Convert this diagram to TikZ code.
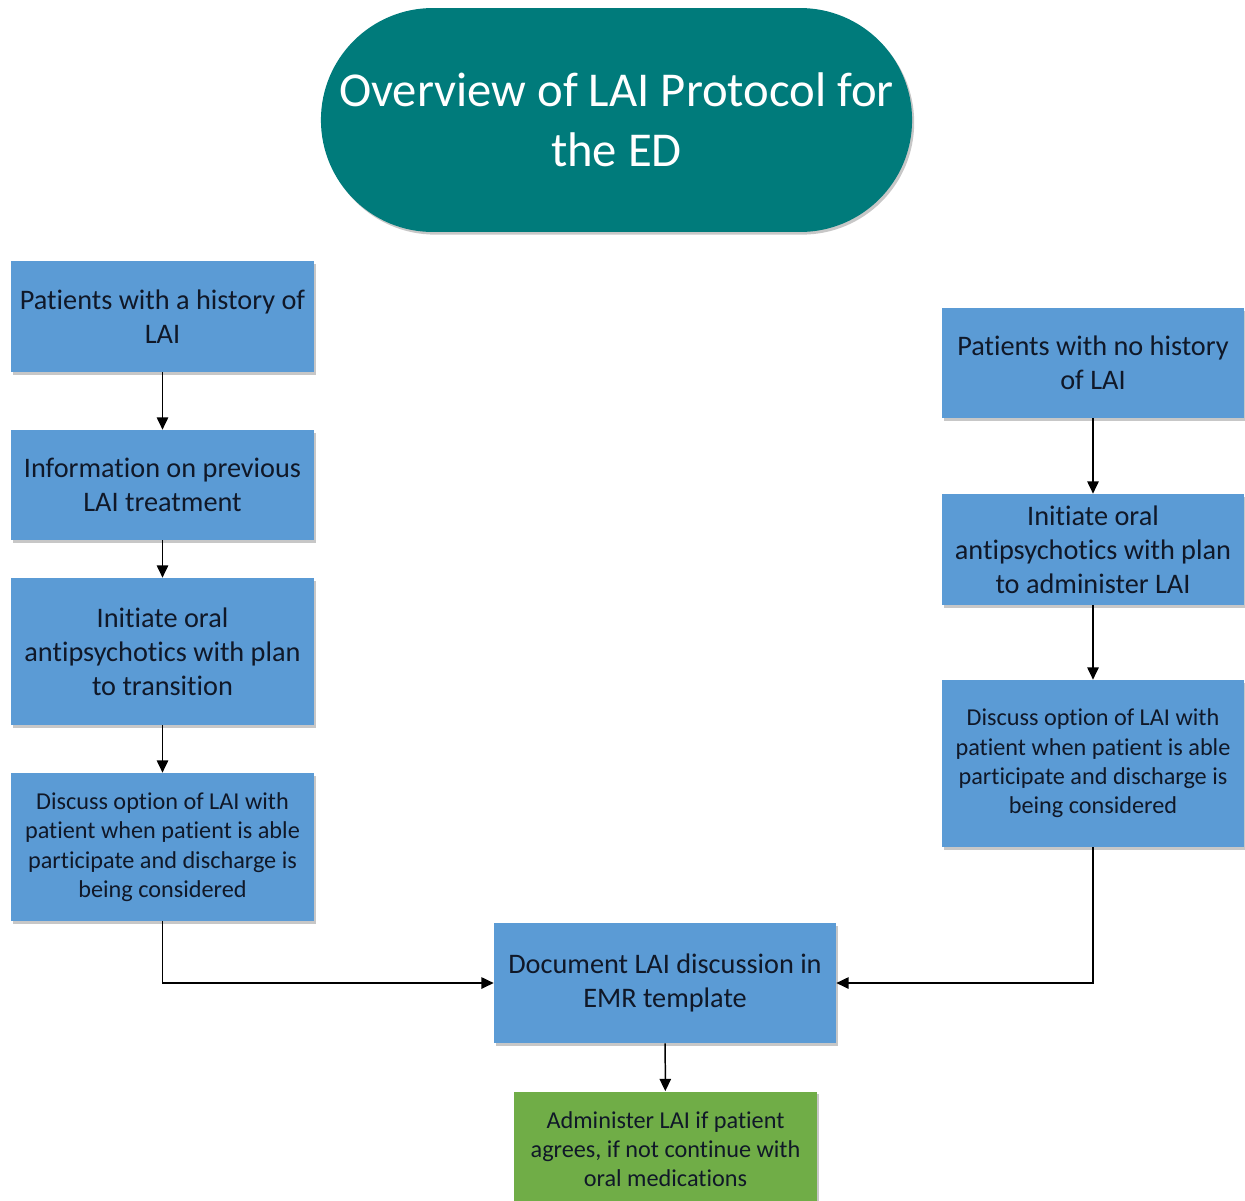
\documentclass[tikz,border=0pt]{standalone}
\usepackage{fontspec}
\setmainfont{Carlito}[Ligatures={NoCommon}]
\usetikzlibrary{arrows.meta,shadows,shapes.misc}
\definecolor{boxblue}{HTML}{5B9BD5}
\definecolor{boxgreen}{HTML}{70AD47}
\definecolor{titleteal}{HTML}{007B7B}
\definecolor{txt}{HTML}{101828}
\begin{document}
\begin{tikzpicture}[x=0.02cm,y=-0.02cm,
  shd/.style={drop shadow={shadow xshift=1.2pt,shadow yshift=-1.5pt,opacity=0.22,fill=black}},
  bbox/.style={rectangle,fill=boxblue,shd,minimum width=6.06cm,align=center,text=txt,inner sep=0pt},
  bigtxt/.style={font=\fontsize{16.1}{19.3}\selectfont},
  smalltxt/.style={font=\fontsize{13.8}{16.7}\selectfont},
  arr/.style={-{Triangle[length=7pt,width=6.5pt]},line width=0.85pt,black}]
\useasboundingbox (0,0) rectangle (1245,1201);
\clip (0,0) rectangle (1245,1201);
\node[rounded rectangle,fill=titleteal,shd,minimum width=12.06cm,minimum height=4.48cm,text=white,align=center,
  font=\fontsize{27.7}{34}\selectfont] (title) at (616.5,120) {Overview of LAI Protocol for\\the ED};
\node[bbox,bigtxt,minimum height=2.22cm] (l1) at (162.5,316.5) {Patients with a history of\\LAI};
\node[bbox,bigtxt,minimum height=2.2cm] (l2) at (162.5,485) {Information on previous\\LAI treatment};
\node[bbox,bigtxt,minimum height=2.94cm] (l3) at (162.5,651.5) {Initiate oral\\antipsychotics with plan\\to transition};
\node[bbox,smalltxt,minimum height=2.96cm] (l4) at (162.5,847) {Discuss option of LAI with\\patient when patient is able\\participate and discharge is\\being considered};
\node[bbox,bigtxt,minimum height=2.2cm] (r1) at (1093,363) {Patients with no history\\of LAI};
\node[bbox,bigtxt,minimum height=2.22cm] (r2) at (1093,549.5) {Initiate oral\\antipsychotics with plan\\to administer LAI};
\node[bbox,smalltxt,minimum height=3.34cm] (r3) at (1093,763.5) {Discuss option of LAI with\\patient when patient is able\\participate and discharge is\\being considered};
\node[bbox,bigtxt,minimum width=6.84cm,minimum height=2.4cm] (doc) at (665,983) {Document LAI discussion in\\EMR template};
\node[bbox,smalltxt,fill=boxgreen,minimum height=2.3cm,text depth=0pt] (adm) at (665.5,1149) {Administer LAI if patient\\agrees, if not continue with\\oral medications};
\draw[arr] (l1) -- (l2);
\draw[arr] (l2) -- (l3);
\draw[arr] (l3) -- (l4);
\draw[arr] (r1) -- (r2);
\draw[arr] (r2) -- (r3);
\draw[arr] (l4.south) |- (doc.west);
\draw[arr] (r3.south) |- (doc.east);
\draw[arr] (doc) -- (adm);
\end{tikzpicture}
\end{document}
